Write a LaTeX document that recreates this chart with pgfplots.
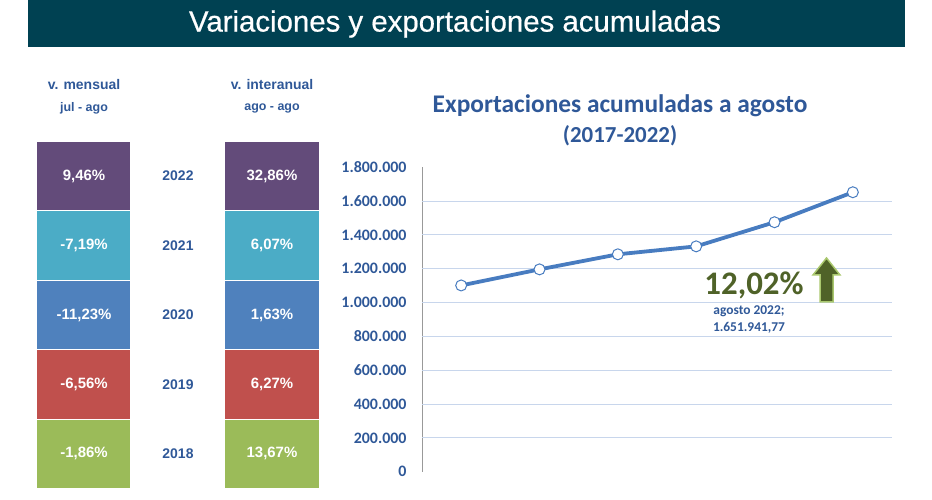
\documentclass[border=0pt]{standalone}
\usepackage{fontspec}
\setmainfont{Liberation Sans}
\newfontfamily\calibri{Carlito}
\newfontfamily\titular[FakeBold=0.6]{Liberation Sans}
\usepackage{graphicx}
\usepackage{pgfplots}
\pgfplotsset{compat=1.18}

\definecolor{barra}{RGB}{0,65,82}
\definecolor{azul}{RGB}{47,88,152}
\definecolor{linea}{RGB}{72,124,192}
\definecolor{rejilla}{RGB}{200,214,236}
\definecolor{c2022}{RGB}{99,75,122}
\definecolor{c2021}{RGB}{75,172,198}
\definecolor{c2020}{RGB}{79,129,189}
\definecolor{c2019}{RGB}{192,80,77}
\definecolor{c2018}{RGB}{155,187,89}
\definecolor{verde}{RGB}{79,98,40}
\definecolor{verdeclaro}{RGB}{170,200,110}

% one row of the two tables: top edge, colour, v. mensual, year, v. interanual
\newcommand\fila[5]{%
  \fill[#2] (37,#1) rectangle (130,#1-68.4);
  \fill[#2] (225,#1) rectangle (319,#1-68.4);
  \node[white,font=\bfseries\fontsize{15}{18}\selectfont] at (84,#1-34.2) {#3};
  \node[azul,font=\bfseries\fontsize{14}{17}\selectfont] at (178,#1-34.2) {#4};
  \node[white,font=\bfseries\fontsize{15}{18}\selectfont] at (272,#1-34.2) {#5};
}

\begin{document}
\begin{tikzpicture}[x=1bp,y=1bp]
\path (0,0) rectangle (932,500);

% title bar
\fill[barra] (28,453) rectangle (905,500);
\node[white] at (455,476) {\titular\fontsize{29.5}{34}\selectfont Variaciones y exportaciones acumuladas};

% table headers
\node[azul,font=\bfseries\fontsize{14}{17}\selectfont] at (84,415) {v. mensual};
\node[azul,font=\bfseries\fontsize{12.5}{15}\selectfont] at (84,392) {jul - ago};
\node[azul,font=\bfseries\fontsize{14}{17}\selectfont] at (272,415) {v. interanual};
\node[azul,font=\bfseries\fontsize{12.5}{15}\selectfont] at (272,392) {ago - ago};

\fila{358}{c2022}{9,46\%}{2022}{32,86\%}
\fila{288.6}{c2021}{-7,19\%}{2021}{6,07\%}
\fila{219.2}{c2020}{-11,23\%}{2020}{1,63\%}
\fila{149.8}{c2019}{-6,56\%}{2019}{6,27\%}
\fila{80.4}{c2018}{-1,86\%}{2018}{13,67\%}

% chart title
\node[azul,font=\calibri\bfseries\fontsize{25.5}{30}\selectfont] at (620,394) {Exportaciones acumuladas a agosto};
\node[azul,font=\calibri\bfseries\fontsize{23}{27}\selectfont] at (620,364) {(2017-2022)};

\begin{axis}[
  at={(422bp,28.3bp)}, anchor=south west,
  scale only axis, width=470bp, height=304.5bp,
  xmin=-0.5, xmax=5.5, ymin=0, ymax=1800000,
  axis x line=none, axis y line=left,
  axis line style={-, draw=gray!80, line width=1bp},
  xtick=\empty,
  ytick={0,200000,400000,600000,800000,1000000,1200000,1400000,1600000,1800000},
  scaled y ticks=false,
  major tick length=0pt,
  yticklabel style={font=\calibri\bfseries\fontsize{16}{19}\selectfont, text=azul, xshift=-12bp,
    /pgf/number format/.cd, fixed, 1000 sep={.}, assume math mode=true},
  extra y ticks={200000,400000,600000,800000,1000000,1200000,1400000,1600000},
  extra y tick labels={},
  extra y tick style={ymajorgrids=true, major grid style={draw=rejilla, line width=1bp}},
  clip=false,
]
\addplot[color=linea, line width=3.8bp, mark=*, mark size=5.5bp,
  mark options={fill=white, draw=linea, line width=1bp}]
  coordinates {(0,1101000) (1,1196000) (2,1285000) (3,1332000) (4,1474700) (5,1651942)};
\end{axis}

% annotation
\node[verde,font=\calibri\bfseries\fontsize{33}{37}\selectfont] at (754,215) {12,02\%};
\filldraw[fill=verde, draw=verdeclaro, line width=1.5bp]
  (820,198) -- (833,198) -- (833,225) -- (840,225) -- (826.5,242) -- (813,225) -- (820,225) -- cycle;
\node[azul,font=\calibri\bfseries\fontsize{13.5}{16}\selectfont] at (749,189) {agosto 2022;};
\node[azul,font=\calibri\bfseries\fontsize{13.5}{16}\selectfont] at (749,172) {1.651.941,77};
\end{tikzpicture}
\end{document}
